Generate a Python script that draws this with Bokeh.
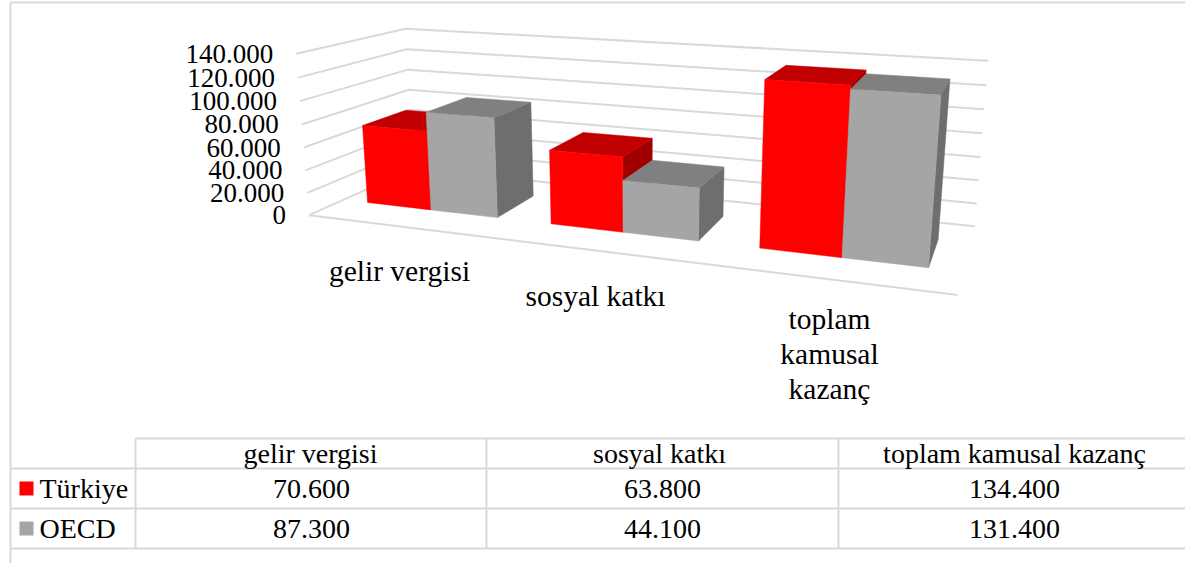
import numpy as np
from bokeh.plotting import figure
from bokeh.models import Range1d
from bokeh.core.properties import value
from bokeh.embed import file_html
from bokeh.resources import INLINE

categories = ["gelir vergisi", "sosyal katkı", "toplam kamusal kazanç"]
wrapped = [["gelir vergisi"], ["sosyal katkı"], ["toplam", "kamusal", "kazanç"]]
turkiye = [70600, 63800, 134400]
oecd = [87300, 44100, 131400]
tick_values = [0, 20000, 40000, 60000, 80000, 100000, 120000, 140000]
tick_labels = ["0", "20.000", "40.000", "60.000", "80.000", "100.000", "120.000", "140.000"]
turkiye_labels = ["70.600", "63.800", "134.400"]
oecd_labels = ["87.300", "44.100", "131.400"]
VMAX = 140000.0

GRID = "#d9d9d9"; FONT = value("Liberation Serif")
TICK = value("27px"); CAT = value("29.5px"); TAB = value("28px")

# camera: category position u (0..1), depth d (0..1), height h (0..1) -> screen pixels
anchors = [((0,0,0),(310,213)),((0,1,0),(411,170)),((1,1,0),(974,225)),((1,0,0),(958,295)),
           ((0,0,1),(294,53)),((0,1,1),(407,28)),((1,1,1),(988,59)),((1,0,1),(972,100))]
A, b = [], []
for (X,Y,Z),(x,y) in anchors:
    A.append([X,Y,Z,1,0,0,0,0,-x*X,-x*Y,-x*Z]); b.append(x)
    A.append([0,0,0,0,X,Y,Z,1,-y*X,-y*Y,-y*Z]); b.append(y)
P = np.append(np.linalg.lstsq(np.array(A,float),np.array(b,float),rcond=None)[0],1).reshape(3,4)
def proj(u,d,v):
    q = P @ np.array([u,d,v/VMAX,1.0])
    return q[0]/q[2], q[1]/q[2]

p = figure(width=1185, height=563, x_range=Range1d(0,1185), y_range=Range1d(563,0),
           output_backend="svg", toolbar_location=None, min_border=0, outline_line_color=None)
p.axis.visible = False
p.grid.visible = False

def lines(xs, ys, w=2, c=GRID):
    p.line(xs, ys, line_color=c, line_width=w)

# frame
lines([10,1185],[2,2]); lines([10,10],[2,563])

# walls
for v in tick_values:
    pts = [proj(0,0,v),proj(0,1,v),proj(1,1,v)]
    lines([a[0] for a in pts],[a[1] for a in pts])
pts=[proj(0,0,0),proj(1,0,0)]
lines([a[0] for a in pts],[a[1] for a in pts])

# bars
G = 0.14; D0, D1 = 0.30, 0.72
def bar(u0,u1,v,cf,ct,cs):
    def face(c, corners):
        pts=[proj(*k) for k in corners]
        p.patch([a[0] for a in pts],[a[1] for a in pts],fill_color=c,line_color=c,line_width=0.5)
    face(cs,[(u1,D0,0),(u1,D1,0),(u1,D1,v),(u1,D0,v)])
    face(ct,[(u0,D0,v),(u1,D0,v),(u1,D1,v),(u0,D1,v)])
    face(cf,[(u0,D0,0),(u1,D0,0),(u1,D0,v),(u0,D0,v)])
for i in range(3):
    a=(i+G)/3; m=(i+.5)/3; c=(i+1-G)/3
    bar(a,m,turkiye[i],"#ff0000","#c00000","#a00000")
    bar(m,c,oecd[i],"#a5a5a5","#808080","#6e6e6e")

# value labels
for v,l in zip(tick_values,tick_labels):
    x,y=proj(0,0,v)
    p.text([x-23],[y],text=[l],text_font=FONT,text_font_size=TICK,text_align="right",text_baseline="middle",text_color="#000000")

# category labels
label_pos=[(399,270),(595,295),(829,318)]
for w,(x,y) in zip(wrapped,label_pos):
    for j,t in enumerate(w):
        p.text([x],[y+35*j],text=[t],text_font=FONT,text_font_size=CAT,text_align="center",text_baseline="middle",text_color="#000000")

# data table
for y,x0 in [(438,135),(468,10),(508,10),(548,10)]:
    lines([x0,1185],[y,y])
for x in (135,486,838):
    lines([x,x],[438,548])
for xh,xn,c,a,b_ in zip((310,659,1014),(311,662,1014),categories,turkiye_labels,oecd_labels):
    p.text([xh],[453],text=[c],text_font=FONT,text_font_size=TAB,text_align="center",text_baseline="middle",text_color="#000000")
    for y,t in zip((488,528),(a,b_)):
        p.text([xn],[y],text=[t],text_font=FONT,text_font_size=TAB,text_align="center",text_baseline="middle",text_color="#000000")
for y,c,t in ((488,"#ff0000","Türkiye"),(528,"#a5a5a5","OECD")):
    p.quad(left=[19],right=[33],top=[y-7],bottom=[y+7],fill_color=c,line_color=None)
    p.text([39],[y],text=[t],text_font=FONT,text_font_size=TAB,text_align="left",text_baseline="middle",text_color="#000000")

open("out.html","w").write(file_html(p,INLINE))
